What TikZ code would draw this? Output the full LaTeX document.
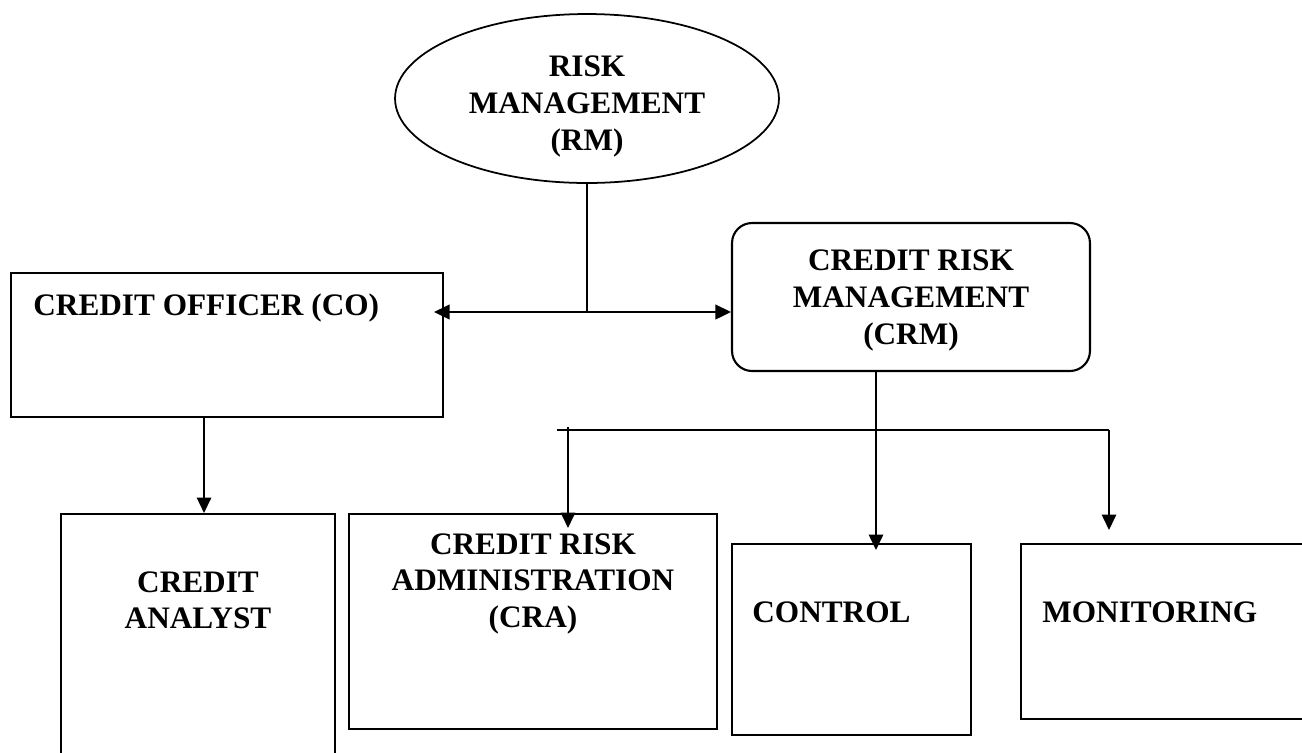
\documentclass[tikz,border=0pt]{standalone}
\usepackage{fontspec}
\setmainfont{Liberation Serif}
\usetikzlibrary{positioning,arrows.meta,shapes.geometric}

\begin{document}
\begin{tikzpicture}
[x=0.02cm, y=-0.02cm,
    >={Triangle[length=3.1mm,width=2.9mm]},
    every node/.style={font=\fontsize{17.8}{21}\selectfont\bfseries,
        align=center, inner sep=0pt},
    unit/.style={draw, rectangle, line width=1.2pt, anchor=north west},
    link/.style={line width=0.85pt},
    ]
    \useasboundingbox (0,0) rectangle (1302,752);
    \clip (0,0) rectangle (1302,752);

    % top of the chart
    \node[ellipse, draw, line width=1pt,
          minimum width=7.68cm,
          minimum height=3.38cm] (rm) at (587,98.5) {\rule{0pt}{21pt}RISK\\MANAGEMENT\\(RM)};

    \node[unit,
          minimum width=8.64cm,
          minimum height=2.88cm] (co) at (10,272) {};
    \node[anchor=north west] (cotext) at ([shift={(23,21)}]co.north west) {CREDIT OFFICER (CO)};

    \node[unit, anchor=center,
          rounded corners=0.4cm,
          minimum width=7.16cm,
          minimum height=2.96cm] (crm) at (911,297) {\rule{0pt}{16pt}CREDIT RISK\\MANAGEMENT\\(CRM)};

    % lower row
    \node[unit,
          minimum width=5.48cm,
          minimum height=5.6cm] (ca) at (60,513) {};
    \node[anchor=north] (catext) at ([shift={(0,58)}]ca.north) {CREDIT\\ANALYST};

    \node[unit,
          minimum width=7.36cm,
          minimum height=4.3cm] (cra) at (348,513) {};
    \node[anchor=north] (cratext) at ([shift={(0,20)}]cra.north) {CREDIT RISK\\ADMINISTRATION\\(CRA)};

    \node[unit,
          minimum width=4.78cm,
          minimum height=3.82cm] (ctl) at (731,543) {};
    \node[anchor=north west] (ctltext) at ([shift={(21,58)}]ctl.north west) {CONTROL};

    \node[unit,
          minimum width=6cm,
          minimum height=3.5cm] (mon) at (1020,543) {};
    \node[anchor=north west] (montext) at ([shift={(22,58)}]mon.north west) {MONITORING};

    % connectors
    \coordinate (jn) at (587,312);
    \coordinate (bl) at (557,430);
    \coordinate (ba) at (568,430);
    \coordinate (bc) at (876,430);
    \coordinate (br) at (1109,430);

    \draw[link] (rm.south) -- (jn);
    \draw[<->, line width=1.4pt, shorten <=-0.2cm] (co.east |- jn) -- (crm.west |- jn);

    \draw[->, link] ([xshift=0.12cm]ca.north |- co.south) -- ([xshift=0.12cm]ca.north);

    \draw[->, link] (bc |- crm.south) -- ([yshift=-0.14cm]bc |- ctl.north);
    \draw[link] (bl) -- (br);
    \draw[->, link] ([yshift=0.06cm]ba) -- ([yshift=-0.3cm]ba |- cra.north);
    \draw[->, link] (br) -- ([yshift=0.26cm]br |- mon.north);

\end{tikzpicture}
\end{document}
